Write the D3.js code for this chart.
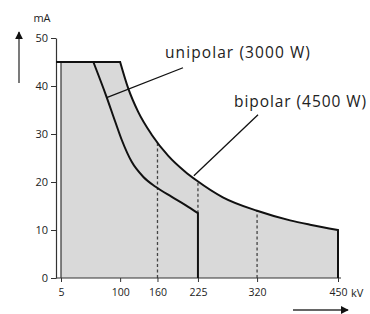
<!DOCTYPE html>
<html><head><meta charset="utf-8">
<script src="https://cdn.jsdelivr.net/npm/d3@7"></script>
<style>
html,body{margin:0;padding:0;background:#fff;}
svg{display:block;}
text{font-family:"Open Sans","Noto Sans",sans-serif;}
</style></head>
<body>
<svg id="c" width="370" height="314"></svg>
<script>
// ---- data ----
const xTicks = [5, 100, 160, 225, 320, 450];
const yTicks = [0, 10, 20, 30, 40, 50];
// bipolar (4500 W) limit curve
const bipolarKV = [100, 113, 129, 151, 177, 204, 223, 265, 320, 373, 405, 450];
const bipolarMA = [45, 39.5, 34.6, 29.8, 25.5, 22.2, 20.3, 16.8, 14.0, 12.0, 11.1, 10];
// unipolar (3000 W) limit curve
const unipolarKV = [57, 78, 92, 102.5, 118.6, 137, 157, 183, 205, 225];
const unipolarMA = [45, 37.8, 32.6, 28.8, 24.2, 21.1, 19.0, 16.9, 15.2, 13.5];
const plateauMA = 45;
const minKV = 5;
// dashed reference lines
const dashKV = [160, 225, 320];
const dashTopMA = [28.2, 20.2, 14.0];
const dashBottomMA = [0, 13.5, 0];
// labels
const labelText = ["unipolar (3000 W)", "bipolar (4500 W)"];
const labelKV = [172, 283];
const labelMA = [45.8, 35.6];
const leaderFromKV = [78.4, 218.5];
const leaderFromMA = [37.6, 21.3];
const leaderToKV = [201, 321.5];
const leaderToMA = [43.8, 34.0];

// ---- layout ----
const svg = d3.select("#c");
const x = d3.scaleLinear().domain([5, 450]).range([61, 338]);
const y = d3.scaleLinear().domain([0, 50]).range([278, 38]);
const axisX = 56;
const axisRight = 341;
const ink = "#111";
const axisCol = "#333";
const labelWidths = [145, 132];

const bip = bipolarKV.map((k, i) => [k, bipolarMA[i]]);
const uni = unipolarKV.map((k, i) => [k, unipolarMA[i]]);
const line = d3.line().x(d => x(d[0])).y(d => y(d[1])).curve(d3.curveMonotoneX);

// grey area
const bipPath = line(bip);
const areaPath = `M${x(minKV)},${y(0)}L${x(minKV)},${y(plateauMA)}L${x(100)},${y(plateauMA)}` +
  "L" + bipPath.slice(1) + `L${x(450)},${y(0)}Z`;
svg.append("path").attr("d", areaPath).attr("fill", "#d9d9d9");

// left edge at 5 kV
svg.append("line").attr("x1", x(minKV)).attr("x2", x(minKV))
  .attr("y1", y(0)).attr("y2", y(plateauMA)).attr("stroke", axisCol).attr("stroke-width", 1.2);

// dashed lines
dashKV.forEach((k, i) => {
  svg.append("line").attr("x1", x(k)).attr("x2", x(k))
    .attr("y1", y(dashBottomMA[i])).attr("y2", y(dashTopMA[i]))
    .attr("stroke", "#444").attr("stroke-width", 1.3).attr("stroke-dasharray", "3,2.5");
});

// axes
const tickFont = "10.5px";
const gx = svg.append("g").attr("transform", `translate(0,${y(0)})`)
  .call(d3.axisBottom(x).tickValues(xTicks).tickSize(4).tickPadding(7).tickFormat(d3.format("d")));
gx.select(".domain").remove();
gx.selectAll("line").attr("stroke", axisCol);
gx.selectAll("text").attr("fill", "#222").style("font-size", tickFont).style("font-family", "'Open Sans','Noto Sans',sans-serif");
svg.append("line").attr("x1", axisX).attr("x2", axisRight).attr("y1", y(0)).attr("y2", y(0))
  .attr("stroke", axisCol).attr("stroke-width", 1.2);

const gy = svg.append("g").attr("transform", `translate(${axisX},0)`)
  .call(d3.axisLeft(y).tickValues(yTicks).tickSize(5).tickPadding(3).tickSizeOuter(0));
gy.select(".domain").attr("stroke", axisCol).attr("stroke-width", 1.2);
gy.selectAll("line").attr("stroke", axisCol);
gy.selectAll("text").attr("fill", "#222").style("font-size", "11px").style("font-family", "'Open Sans','Noto Sans',sans-serif");

// curves
svg.append("path").attr("d", `M${axisX},${y(plateauMA)}L${x(100)},${y(plateauMA)}L` + bipPath.slice(1) + `L${x(450)},${y(0)}`)
  .attr("fill", "none").attr("stroke", ink).attr("stroke-width", 2);
svg.append("path").attr("d", line(uni) + `L${x(225)},${y(0)}`)
  .attr("fill", "none").attr("stroke", ink).attr("stroke-width", 2);

// leaders and labels
labelText.forEach((t, i) => {
  svg.append("line").attr("x1", x(leaderFromKV[i])).attr("y1", y(leaderFromMA[i]))
    .attr("x2", x(leaderToKV[i])).attr("y2", y(leaderToMA[i]))
    .attr("stroke", ink).attr("stroke-width", 1.3);
  svg.append("text").attr("x", x(labelKV[i])).attr("y", y(labelMA[i]))
    .attr("fill", "#222").style("font-size", "15.5px")
    .attr("textLength", labelWidths[i]).attr("lengthAdjust", "spacing").text(t);
});

// axis titles and arrows
svg.append("defs").append("marker").attr("id", "ah").attr("viewBox", "0 0 10 10")
  .attr("refX", 9).attr("refY", 5).attr("markerWidth", 8).attr("markerHeight", 8)
  .attr("markerUnits", "userSpaceOnUse").attr("orient", "auto")
  .append("path").attr("d", "M0,0L10,5L0,10Z").attr("fill", ink);
svg.append("text").attr("x", 42).attr("y", 22).attr("text-anchor", "middle")
  .attr("fill", "#222").style("font-size", "11px").text("mA");
svg.append("line").attr("x1", 19).attr("x2", 19).attr("y1", 83).attr("y2", 32)
  .attr("stroke", "#333").attr("stroke-width", 1.3).attr("marker-end", "url(#ah)");
svg.append("text").attr("x", 351).attr("y", 297)
  .attr("fill", "#222").style("font-size", "11px").text("kV");
svg.append("line").attr("x1", 293).attr("x2", 348).attr("y1", 310).attr("y2", 310)
  .attr("stroke", "#333").attr("stroke-width", 1.3).attr("marker-end", "url(#ah)");
</script>
</body></html>
